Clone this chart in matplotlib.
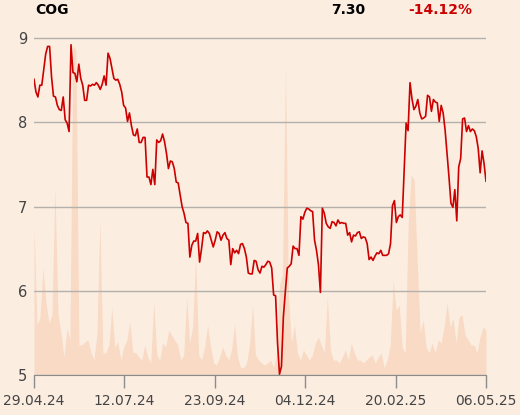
import matplotlib
matplotlib.use('Agg')
import matplotlib.pyplot as plt
import numpy as np

# header
ticker = "COG"
last_price = "7.30"
change = "-14.12%"

# x axis labels (evenly spaced over the trading days)
date_labels = ["29.04.24", "12.07.24", "23.09.24", "04.12.24", "20.02.25", "06.05.25"]
price_ticks = [5, 6, 7, 8, 9]

# closing prices
prices = [
    8.51, 8.36, 8.30, 8.44, 8.44, 8.62, 8.81, 8.90, 8.90, 8.54, 8.31, 8.30, 8.20, 8.15, 8.14,
    8.30, 8.03, 7.99, 7.89, 8.92, 8.59, 8.58, 8.48, 8.69, 8.52, 8.44, 8.26, 8.26, 8.44, 8.43,
    8.45, 8.44, 8.47, 8.44, 8.39, 8.45, 8.55, 8.44, 8.82, 8.76, 8.64, 8.52, 8.50, 8.51, 8.45,
    8.36, 8.20, 8.17, 8.01, 8.11, 7.96, 7.85, 7.84, 7.92, 7.76, 7.76, 7.82, 7.82, 7.35, 7.35,
    7.26, 7.44, 7.26, 7.79, 7.76, 7.78, 7.86, 7.77, 7.63, 7.45, 7.54, 7.53, 7.45, 7.29, 7.28,
    7.14, 7.00, 6.92, 6.81, 6.80, 6.40, 6.54, 6.59, 6.59, 6.68, 6.34, 6.50, 6.69, 6.68, 6.71,
    6.68, 6.60,
    6.52, 6.60, 6.70, 6.68, 6.60, 6.66, 6.69, 6.62, 6.60, 6.31, 6.50, 6.45, 6.48, 6.44, 6.55,
    6.56, 6.50, 6.40, 6.21, 6.20, 6.20, 6.36, 6.35, 6.25, 6.21, 6.29, 6.28, 6.31, 6.35, 6.34,
    6.27, 5.95, 5.94, 5.38, 5.01, 5.10, 5.69, 5.99, 6.27, 6.29, 6.32, 6.53, 6.50, 6.50, 6.42,
    6.88, 6.85, 6.93,
    6.98, 6.97, 6.95, 6.94, 6.60, 6.48, 6.31, 5.98, 6.98, 6.92, 6.80, 6.76, 6.74, 6.82, 6.81,
    6.77, 6.84, 6.80, 6.81, 6.80, 6.80, 6.66, 6.69, 6.58, 6.66, 6.65, 6.69, 6.70, 6.62, 6.64,
    6.63, 6.56, 6.37, 6.40, 6.36, 6.41, 6.45, 6.44, 6.48, 6.42, 6.42, 6.42, 6.44, 6.56, 7.01,
    7.07, 6.81, 6.88, 6.90, 6.87,
    7.43, 7.99, 7.90, 8.47, 8.28, 8.15, 8.19, 8.27, 8.11, 8.04, 8.05, 8.07, 8.32, 8.30, 8.13,
    8.27, 8.24, 8.23, 8.01, 8.20, 8.11, 7.91, 7.63, 7.35, 7.04, 6.99, 7.20, 6.83, 7.47, 7.57,
    8.04, 8.05, 7.89, 7.96, 7.89, 7.92, 7.90, 7.83, 7.69, 7.40, 7.66, 7.51, 7.30,
]

# traded volume (relative units), sampled roughly every third session
volume = [
    149, 50, 58, 107, 72, 52, 60, 188, 62, 42, 18, 47, 35, 330, 325, 30, 30, 33, 35, 23,
    15, 40, 155, 22, 22, 30, 67, 28, 33, 15, 28, 35, 53, 23, 22, 18, 15, 30, 18, 12,
    74, 20, 15, 32, 28, 45, 40, 35, 30, 15, 20, 77, 32, 48, 118, 20, 15, 28, 50, 28,
    12, 10, 18, 28, 20, 15, 25, 51, 18, 8, 7, 12, 30, 70, 20, 15, 12, 10, 12, 15,
    8, 20, 90, 100, 307, 80, 32, 50, 22, 15, 25, 20, 15, 20, 32, 38, 30, 22, 79, 25,
    15, 15, 12, 18, 25, 15, 32, 22, 15, 15, 12, 15, 18, 20, 12, 18, 22, 7, 15, 30,
    94, 65, 70, 28, 22, 150, 200, 195, 115, 42, 55, 28, 22, 32, 22, 35, 32, 48, 72, 48,
    57, 32, 58, 60, 40, 35, 30, 30, 22, 38, 48, 45,
]

bg = '#fcede1'
vol_color = '#f8dac5'
line_color = '#cc0000'

n = len(prices)
x = np.arange(n)
xv = np.linspace(0, n - 1, len(volume))

fig = plt.figure(figsize=(5.2, 4.15), dpi=100, facecolor=bg)
rect = [34 / 520, 40 / 415, 452 / 520, 350 / 415]

# volume in the background
axv = fig.add_axes(rect)
axv.set_facecolor(bg)
axv.fill_between(xv, volume, 0, color=vol_color, lw=0)
axv.set_xlim(0, n - 1)
axv.set_ylim(0, 350)
axv.axis('off')

# price on top
ax = fig.add_axes(rect)
ax.patch.set_alpha(0)
ax.plot(x, prices, color=line_color, lw=1.2, zorder=3)
ax.set_xlim(0, n - 1)
ax.set_ylim(5, 5 + 350 / 84.25)
ax.set_yticks(price_ticks)
ax.set_yticklabels([str(v) for v in price_ticks])
ax.set_xticks(np.linspace(0, n - 1, len(date_labels)))
ax.set_xticklabels(date_labels)
ax.grid(axis='y', color='#b4b0ac', lw=1)
ax.set_axisbelow(True)
for s in ['top', 'right', 'left']:
    ax.spines[s].set_visible(False)
ax.spines['bottom'].set_color('#8c8c8c')
ax.tick_params(axis='y', length=0, pad=5, labelsize=10.5, labelcolor='#444444')
ax.tick_params(axis='x', length=9, width=1, color='#8c8c8c', pad=5,
               labelsize=10, labelcolor='#444444')

fig.text(35 / 520, 1 - 10 / 415, ticker, fontsize=10, fontweight='bold',
         color='black', ha='left', va='center')
fig.text(365 / 520, 1 - 10 / 415, last_price, fontsize=10, fontweight='bold',
         color='black', ha='right', va='center')
fig.text(472 / 520, 1 - 10 / 415, change, fontsize=10, fontweight='bold',
         color=line_color, ha='right', va='center')

fig.savefig('out.png', dpi=100, facecolor=bg)
